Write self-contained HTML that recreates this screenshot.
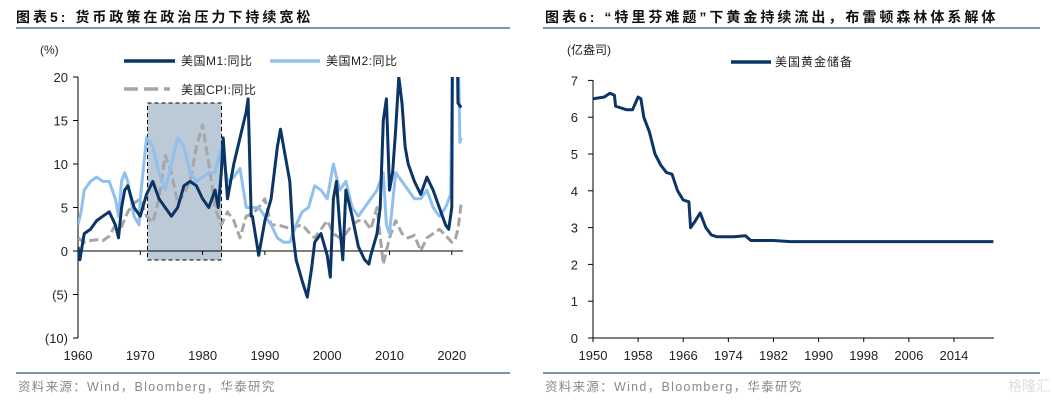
<!DOCTYPE html>
<html><head><meta charset="utf-8"><style>
html,body{margin:0;padding:0;background:#fff;}
body{width:1054px;height:403px;position:relative;overflow:hidden;font-family:"Liberation Sans","Noto Sans CJK SC",sans-serif;}
svg{position:absolute;left:0;top:0;}
</style></head><body>
<svg width="1054" height="403" viewBox="0 0 1054 403" font-family="Liberation Sans, Noto Sans CJK SC, sans-serif">
<defs><clipPath id="lc"><rect x="78" y="77" width="392" height="262"/></clipPath></defs>
<g>
<text x="16" y="22" font-size="14" font-weight="bold" fill="#111" letter-spacing="3">图表5:  货币政策在政治压力下持续宽松</text>
<rect x="16" y="27" width="494" height="2" fill="#7f95aa"/>
<rect x="16" y="372" width="494" height="2" fill="#7f95aa"/>
<text x="18" y="391" font-size="12.5" fill="#888" letter-spacing="1.3">资料来源：Wind，Bloomberg，华泰研究</text>
<text x="40" y="54" font-size="12" fill="#222">(%)</text>
<rect x="147.5" y="103" width="74" height="157" fill="#bccad8" stroke="#000" stroke-dasharray="4,3" stroke-width="1"/>
<g id="lchart"></g>
<g font-size="12" fill="#222" letter-spacing="0.5">
<line x1="124" y1="61" x2="175" y2="61" stroke="#0b3566" stroke-width="3.5"/><text x="181" y="65">美国M1:同比</text>
<line x1="270" y1="61" x2="320" y2="61" stroke="#8fc0ee" stroke-width="3.5"/><text x="326" y="65">美国M2:同比</text>
<line x1="124" y1="89" x2="170" y2="89" stroke="#a6a6a6" stroke-width="3.5" stroke-dasharray="14,6"/><text x="181" y="94">美国CPI:同比</text>
</g>
</g>
<g>
<text x="545" y="22" font-size="14" font-weight="bold" fill="#111" letter-spacing="3">图表6:  “特里芬难题”下黄金持续流出，布雷顿森林体系解体</text>
<rect x="543" y="27" width="497" height="2" fill="#7f95aa"/>
<rect x="543" y="372" width="497" height="2" fill="#7f95aa"/>
<text x="545" y="391" font-size="12.5" fill="#888" letter-spacing="1.3">资料来源：Wind，Bloomberg，华泰研究</text>
<text x="1008" y="391" font-size="14" fill="#ddd">格隆汇</text>
<text x="567" y="54" font-size="12" fill="#222">(亿盎司)</text>
<g>
<line x1="731" y1="62" x2="771" y2="62" stroke="#0b3566" stroke-width="3.5"/><text x="775" y="66" font-size="12" fill="#222" letter-spacing="1">美国黄金储备</text>
</g>
<g id="rchart"></g>
</g>
</svg>
<script>
var m1Years=[1960,1960.3,1961,1962,1963,1964,1965,1966,1966.5,1967,1967.5,1968,1969,1970,1971,1972,1973,1974,1975,1976,1977,1978,1979,1980,1981,1982,1982.5,1983,1983.3,1984,1985,1986,1987,1987.3,1987.8,1988,1989,1990,1991,1992,1992.5,1993,1994,1994.5,1995,1996,1996.8,1997.5,1998,1999,2000,2000.5,2001,2001.5,2002,2002.5,2003,2004,2005,2006,2006.7,2007,2008,2008.5,2009,2009.5,2010,2010.5,2011,2011.5,2012,2012.5,2013,2014,2015,2016,2017,2018,2019,2019.5,2020,2020.3,2021,2021.5];
var m1Values=[0.5,-1,2,2.5,3.5,4,4.5,3,1.5,5,7,7.5,5,4,6.5,8,6,5,4,5,7.5,8,7.5,6,5,7,5,9,13,6,10,13,16,17.5,4,4,-0.5,3.5,6,12,14,12,8,2,-1,-3.5,-5.3,-2,1,2,-0.5,-3,6,8,3,-1,7,4,0.5,-1,-1.5,-0.5,2,5,15,17.5,7,9,14,20,17,12,10,8,6.5,8.5,7,5,3,2.5,5,60,17,16.5];
var m2Years=[1960,1960.5,1961,1962,1963,1964,1965,1966,1966.5,1967,1967.5,1968,1969,1969.8,1970,1971,1972,1973,1974,1975,1976,1977,1978,1979,1980,1981,1982,1983,1984,1985,1986,1987,1988,1989,1990,1991,1992,1993,1994,1995,1996,1997,1998,1999,2000,2001,2002,2003,2004,2005,2006,2007,2008,2009,2009.5,2010,2011,2012,2013,2014,2015,2016,2017,2018,2019,2019.8,2020.2,2021,2021.3,2021.5];
var m2Values=[3,4.5,7,8,8.5,8,8,6,4,8,9,8,4,3,6,13,12,9,7,10,13,12,9,8,8.5,9,9,12,8,8.5,9.5,5,5,5,4,3,1.5,1,1,3,4.5,5,7.5,7,6,10,7,8,5,4,5,6,7,9,3,2,9,8,7,6,6,7,5,4,5,6.5,25,25,12.5,13];
var cpiYears=[1960,1961,1962,1963,1964,1965,1966,1967,1968,1969,1970,1971,1972,1973,1974,1975,1976,1977,1978,1979,1980,1981,1982,1983,1984,1985,1986,1987,1988,1989,1990,1991,1992,1993,1994,1995,1996,1997,1998,1999,2000,2001,2002,2003,2004,2005,2006,2007,2008,2009,2010,2011,2012,2013,2014,2015,2016,2017,2018,2019,2020,2020.5,2021,2021.5];
var cpiValues=[1.5,1,1.2,1.3,1.2,1.7,3,2.8,4.5,5.5,6,4,3.3,6,11,9,5.5,6.5,8,12,14.5,10,5,3,4.5,3.5,1.5,4,4.3,5,6,3,3,2.8,2.6,2.8,3,2.2,1.5,2.5,3.5,2,1.5,2,3,3.5,3.5,2.5,5,-1.5,1.5,3.5,2,1.5,1.8,0,1.5,2,2.5,1.8,1,1.2,2.5,5.4];
var leftYTicks=[20,15,10,5,0,-5,-10];
var leftYLabels=["20","15","10","5","0","(5)","(10)"];
var leftXTicks=[1960,1970,1980,1990,2000,2010,2020];
var goldYears=[1950,1952,1953,1953.8,1954,1955,1956,1957,1958,1958.5,1959,1960,1961,1962,1963,1964,1965,1966,1967,1967.3,1968,1969,1970,1971,1972,1975,1977,1978,1982,1985,2021];
var goldValues=[6.5,6.55,6.65,6.6,6.3,6.25,6.2,6.2,6.55,6.5,6.0,5.6,5.0,4.7,4.5,4.45,4.0,3.75,3.7,3.0,3.15,3.4,3.0,2.8,2.75,2.75,2.78,2.65,2.65,2.62,2.62];
var rightYTicks=[0,1,2,3,4,5,6,7];
var rightXTicks=[1950,1958,1966,1974,1982,1990,1998,2006,2014];

var NS='http://www.w3.org/2000/svg';
function mk(tag,attrs,parent){var e=document.createElementNS(NS,tag);for(var k in attrs)e.setAttribute(k,attrs[k]);parent.appendChild(e);return e;}
function lx(y){return 78+(y-1960)*6.23;}
function ly(v){return 251-v*8.7;}
function rx(y){return 593+(y-1950)*5.64;}
function ry(v){return 338-v*36.8;}

var L=document.getElementById('lchart');
var ax=mk('line',{x1:78,y1:77,x2:78,y2:338,stroke:'#000','stroke-width':1},L);


leftYTicks.forEach(function(t,i){
  mk('line',{x1:73,y1:ly(t),x2:78,y2:ly(t),stroke:'#000'},L);
  var tx=mk('text',{x:68,y:ly(t)+5,'text-anchor':'end','font-size':13,fill:'#222'},L);
  tx.textContent=leftYLabels[i];
  
  
});
var xa=mk('line',{x1:78,y1:ly(0),x2:463,y2:ly(0),stroke:'#000','stroke-width':1},L);


leftXTicks.forEach(function(t){
  mk('line',{x1:lx(t),y1:ly(0),x2:lx(t),y2:ly(0)+4,stroke:'#000'},L);
  var tx=mk('text',{x:lx(t),y:360,'text-anchor':'middle','font-size':13,fill:'#222'},L);
  tx.textContent=t;
  
  
});
function series(years,vals,color,dash,name,w){
  var d=years.map(function(y,i){return (i?'L':'M')+lx(y).toFixed(1)+','+ly(vals[i]).toFixed(1);}).join('');
  var p=mk('path',{d:d,fill:'none',stroke:color,'stroke-width':w,'stroke-linejoin':'round','clip-path':'url(#lc)'},L);
  if(dash)p.setAttribute('stroke-dasharray',dash);
  
  
}
series(cpiYears,cpiValues,'#a6a6a6','9,4','cpi-yoy-line',3);
series(m2Years,m2Values,'#8fc0ee',null,'m2-yoy-line',3);
series(m1Years,m1Values,'#0b3566',null,'m1-yoy-line',3);

var R=document.getElementById('rchart');
var ay=mk('line',{x1:593,y1:80,x2:593,y2:338,stroke:'#000'},R);


rightYTicks.forEach(function(t){
  mk('line',{x1:588,y1:ry(t),x2:593,y2:ry(t),stroke:'#000'},R);
  var tx=mk('text',{x:578,y:ry(t)+5,'text-anchor':'end','font-size':13,fill:'#222'},R);
  tx.textContent=t;
  
  
});
var ax2=mk('line',{x1:593,y1:338,x2:994,y2:338,stroke:'#000'},R);


rightXTicks.forEach(function(t){
  mk('line',{x1:rx(t),y1:338,x2:rx(t),y2:342,stroke:'#000'},R);
  var tx=mk('text',{x:rx(t),y:360,'text-anchor':'middle','font-size':13,fill:'#222'},R);
  tx.textContent=t;
  
  
});
var gd=goldYears.map(function(y,i){return (i?'L':'M')+rx(y).toFixed(1)+','+ry(goldValues[i]).toFixed(1);}).join('');
var gp=mk('path',{d:gd,fill:'none',stroke:'#0b3566','stroke-width':3,'stroke-linejoin':'round'},R);


</script>
</body></html>
